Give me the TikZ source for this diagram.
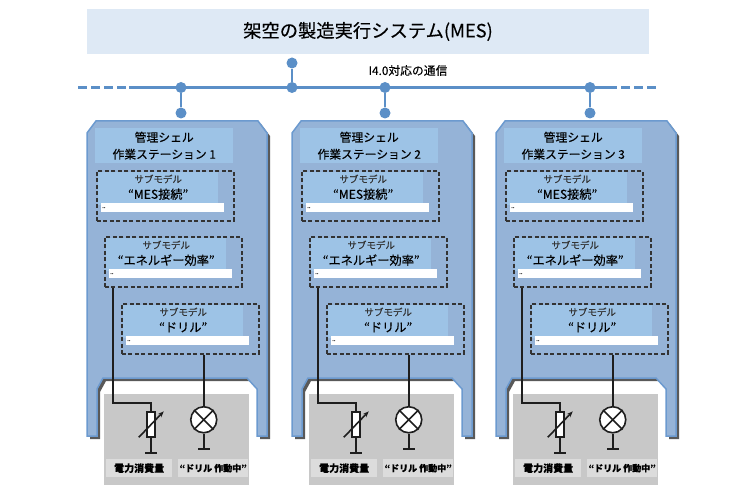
\documentclass[tikz,border=0pt]{standalone}
\usepackage{fontspec}
\setmainfont{Noto Sans CJK JP}[FakeBold=0.3]
\usetikzlibrary{
  arrows.meta,
  positioning,
  calc,
  shadows
}
\definecolor{busblue}{RGB}{91, 143, 199}
\definecolor{titlebg}{RGB}{222, 233, 245}
\definecolor{shellfill}{RGB}{149, 179, 215}
\definecolor{shelledge}{RGB}{108, 154, 207}
\definecolor{headbg}{RGB}{157, 195, 230}
\definecolor{panelgray}{RGB}{200, 200, 200}
\definecolor{tagbg}{RGB}{220, 220, 220}
\definecolor{wirecolor}{RGB}{30, 30, 30}
\tikzset{
  titlebox/.style = {
    rectangle, fill=titlebg, minimum width=562pt, minimum height=45pt,
    inner sep=0pt, font=\fontsize{18.3}{21}\selectfont
  },
  busdot/.style = {circle, fill=busblue, minimum size=11pt, inner sep=0pt},
  busline/.style = {draw=busblue, line width=2.8pt},
  busdash/.style = {busline, dash pattern=on 9pt off 4pt},
  shell/.style = {
    fill=shellfill, draw=shelledge, line width=1.5pt,
    drop shadow={shadow xshift=3pt, shadow yshift=-3pt, fill=black!65, opacity=1}
  },
  header/.style = {
    rectangle, fill=headbg, minimum width=138pt, minimum height=35pt,
    inner sep=0pt, align=center, font=\fontsize{11.8}{17}\selectfont
  },
  subbox/.style = {
    rectangle, draw=black!80, line width=1.6pt, dash pattern=on 4pt off 2.5pt,
    minimum width=137pt, minimum height=50pt, inner sep=0pt
  },
  sublight/.style = {
    rectangle, fill=headbg, minimum width=120pt, minimum height=33pt,
    inner sep=0pt, align=center, font=\fontsize{12.2}{16}\selectfont
  },
  subfield/.style = {
    rectangle, fill=white, minimum width=123pt, minimum height=9pt,
    inner sep=1pt, text width=121pt, font=\fontsize{6}{6}\selectfont
  },
  panel/.style = {
    rectangle, fill=panelgray, minimum width=145pt, minimum height=91pt, inner sep=0pt
  },
  tagbox/.style = {
    rectangle, fill=tagbg, minimum height=18pt, inner sep=0pt,
    font=\fontsize{#1}{11}\selectfont\bfseries
  },
  tagbox/.default = 10,
  resistor/.style = {
    rectangle, draw=wirecolor, fill=white, line width=1.6pt,
    minimum width=8pt, minimum height=25pt, inner sep=0pt
  },
  lamp/.style = {
    circle, draw=wirecolor, fill=white, line width=1.6pt,
    minimum size=26pt, inner sep=0pt
  },
  wire/.style = {draw=wirecolor, line width=1.6pt},
  groundwire/.style = {wire, -{Bar[width=12pt,line width=1.5pt]}},
  shellpic/.pic = {
    \draw[shell] (9,0) -- (171,0) -- (180,12) -- (180,315) -- (170,315)
      -- (170,268) -- (160,257) -- (16,257) -- (10,268) -- (10,315)
      -- (0,315) -- (0,12) -- cycle;
  },
}
\newcommand{\sublabel}[1]{{\fontsize{9.5}{12}\selectfont\color{black!80}サブモデル}\\#1\\[-12pt]\mbox{}}

\begin{document}
\begin{tikzpicture}[x=1pt, y=-1pt]
  \useasboundingbox (0,0) rectangle (729,497);

  \node[titlebox] (mes) at (368,31.5) {架空の製造実行システム(MES)};
  \node[font=\fontsize{11.8}{13}\selectfont] (commlbl) at (408,70.5) {I4.0対応の通信};

  %% Bus
  \coordinate (busll) at (78,87.5);
  \coordinate (busl) at (129,87.5);
  \coordinate (busr) at (608,87.5);
  \coordinate (busrr) at (656,87.5);
  \node[busdot] (busa) at (181,87.5) {};
  \node[busdot] (busu) at (292,87.5) {};
  \node[busdot] (busb) at (385,87.5) {};
  \node[busdot] (busc) at (590,87.5) {};
  \node[busdot] (upu) at (292,63) {};
  \node[busdot] (dropa) at (181,113) {};
  \node[busdot] (dropb) at (385,113) {};
  \node[busdot] (dropc) at (590,113) {};

  \draw[busdash] (busll)--(busl);
  \draw[busline] (busl)--(busr);
  \draw[busdash] (busr)--(busrr);
  \draw[busline] (busu)--(upu);
  \draw[busline] (busa)--(dropa);
  \draw[busline] (busb)--(dropb);
  \draw[busline] (busc)--(dropc);

  %% Station 1
  \coordinate (a0) at (87,121);
  \pic at (a0) {shellpic};
  \node[panel, below right=273pt and 17pt of a0] (apanel) {};
  \node[header, below right=7pt and 8pt of a0] (ahead)
    {管理シェル\\作業ステーション 1};
  \node[subbox, below right=49pt and 9pt of a0] (a1) {};
  \node[sublight, below right=2pt and 2pt of a1.north west] (a1l)
    {\sublabel{“MES接続”}};
  \node[subfield, below right=33pt and 5pt of a1.north west] (a1f) {..};
  \node[subbox, below right=115pt and 17pt of a0] (a2) {};
  \node[sublight, below right=2pt and 2pt of a2.north west] (a2l)
    {\sublabel{“エネルギー効率”}};
  \node[subfield, below right=33pt and 5pt of a2.north west] (a2f) {..};
  \node[subbox, below right=182pt and 34pt of a0] (a3) {};
  \node[sublight, below right=2pt and 2pt of a3.north west] (a3l)
    {\sublabel{“ドリル”}};
  \node[subfield, below right=33pt and 5pt of a3.north west] (a3f) {..};
  \node[resistor, below right=17pt and 42pt of apanel.north west] (ares) {};
  \node[lamp, below right=16pt and 90pt of apanel.north west] (alamp) {};
  \node[tagbox, below right=65pt and 2pt of apanel.north west, minimum width=66pt] (atag1) {電力消費量};
  \node[tagbox=9, below right=65pt and 74pt of apanel.north west, minimum width=70pt] (atag2) {“ドリル 作動中”};
  \coordinate[above=8pt of ares] (aelb);
  \coordinate[below=16pt of ares] (agnd1);
  \coordinate[below=16pt of alamp] (agnd2);
  \coordinate (awire) at ($(a2.south west)+(9,0)$);

  \draw[wire] (awire) |- (aelb) -- (ares);
  \draw[wire] (a3.south -| alamp) -- (alamp);
  \draw[groundwire] (ares)--(agnd1);
  \draw[groundwire] (alamp)--(agnd2);
  \draw[wire, -{Stealth[length=6pt]}] ($(ares)+(-12,13)$) -- ($(ares)+(13,-13)$);
  \draw[wire] (alamp.45)--(alamp.225);
  \draw[wire] (alamp.135)--(alamp.315);

  %% Station 2
  \coordinate (b0) at (292,121);
  \pic at (b0) {shellpic};
  \node[panel, below right=273pt and 17pt of b0] (bpanel) {};
  \node[header, below right=7pt and 8pt of b0] (bhead)
    {管理シェル\\作業ステーション 2};
  \node[subbox, below right=49pt and 9pt of b0] (b1) {};
  \node[sublight, below right=2pt and 2pt of b1.north west] (b1l)
    {\sublabel{“MES接続”}};
  \node[subfield, below right=33pt and 5pt of b1.north west] (b1f) {..};
  \node[subbox, below right=115pt and 17pt of b0] (b2) {};
  \node[sublight, below right=2pt and 2pt of b2.north west] (b2l)
    {\sublabel{“エネルギー効率”}};
  \node[subfield, below right=33pt and 5pt of b2.north west] (b2f) {..};
  \node[subbox, below right=182pt and 34pt of b0] (b3) {};
  \node[sublight, below right=2pt and 2pt of b3.north west] (b3l)
    {\sublabel{“ドリル”}};
  \node[subfield, below right=33pt and 5pt of b3.north west] (b3f) {..};
  \node[resistor, below right=17pt and 42pt of bpanel.north west] (bres) {};
  \node[lamp, below right=16pt and 90pt of bpanel.north west] (blamp) {};
  \node[tagbox, below right=65pt and 2pt of bpanel.north west, minimum width=66pt] (btag1) {電力消費量};
  \node[tagbox=9, below right=65pt and 74pt of bpanel.north west, minimum width=70pt] (btag2) {“ドリル 作動中”};
  \coordinate[above=8pt of bres] (belb);
  \coordinate[below=16pt of bres] (bgnd1);
  \coordinate[below=16pt of blamp] (bgnd2);
  \coordinate (bwire) at ($(b2.south west)+(9,0)$);

  \draw[wire] (bwire) |- (belb) -- (bres);
  \draw[wire] (b3.south -| blamp) -- (blamp);
  \draw[groundwire] (bres)--(bgnd1);
  \draw[groundwire] (blamp)--(bgnd2);
  \draw[wire, -{Stealth[length=6pt]}] ($(bres)+(-12,13)$) -- ($(bres)+(13,-13)$);
  \draw[wire] (blamp.45)--(blamp.225);
  \draw[wire] (blamp.135)--(blamp.315);

  %% Station 3
  \coordinate (c0) at (496,121);
  \pic at (c0) {shellpic};
  \node[panel, below right=273pt and 17pt of c0] (cpanel) {};
  \node[header, below right=7pt and 8pt of c0] (chead)
    {管理シェル\\作業ステーション 3};
  \node[subbox, below right=49pt and 9pt of c0] (c1) {};
  \node[sublight, below right=2pt and 2pt of c1.north west] (c1l)
    {\sublabel{“MES接続”}};
  \node[subfield, below right=33pt and 5pt of c1.north west] (c1f) {..};
  \node[subbox, below right=115pt and 17pt of c0] (c2) {};
  \node[sublight, below right=2pt and 2pt of c2.north west] (c2l)
    {\sublabel{“エネルギー効率”}};
  \node[subfield, below right=33pt and 5pt of c2.north west] (c2f) {..};
  \node[subbox, below right=182pt and 34pt of c0] (c3) {};
  \node[sublight, below right=2pt and 2pt of c3.north west] (c3l)
    {\sublabel{“ドリル”}};
  \node[subfield, below right=33pt and 5pt of c3.north west] (c3f) {..};
  \node[resistor, below right=17pt and 42pt of cpanel.north west] (cres) {};
  \node[lamp, below right=16pt and 90pt of cpanel.north west] (clamp) {};
  \node[tagbox, below right=65pt and 2pt of cpanel.north west, minimum width=66pt] (ctag1) {電力消費量};
  \node[tagbox=9, below right=65pt and 74pt of cpanel.north west, minimum width=70pt] (ctag2) {“ドリル 作動中”};
  \coordinate[above=8pt of cres] (celb);
  \coordinate[below=16pt of cres] (cgnd1);
  \coordinate[below=16pt of clamp] (cgnd2);
  \coordinate (cwire) at ($(c2.south west)+(9,0)$);

  \draw[wire] (cwire) |- (celb) -- (cres);
  \draw[wire] (c3.south -| clamp) -- (clamp);
  \draw[groundwire] (cres)--(cgnd1);
  \draw[groundwire] (clamp)--(cgnd2);
  \draw[wire, -{Stealth[length=6pt]}] ($(cres)+(-12,13)$) -- ($(cres)+(13,-13)$);
  \draw[wire] (clamp.45)--(clamp.225);
  \draw[wire] (clamp.135)--(clamp.315);

\end{tikzpicture}
\end{document}
